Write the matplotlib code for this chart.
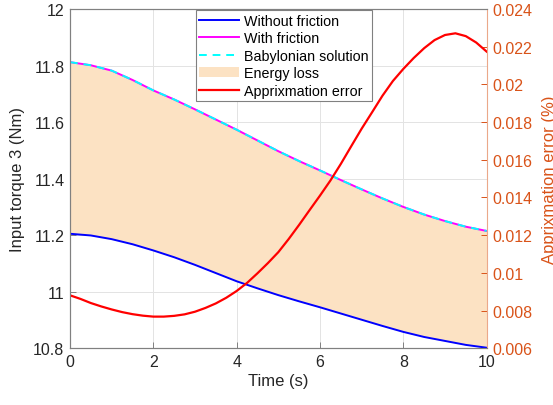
import matplotlib
matplotlib.use('Agg')
import matplotlib.pyplot as plt
import numpy as np

plt.rcParams['font.family'] = ['Liberation Sans', 'DejaVu Sans']

# data
tijd = np.arange(0, 10.5, 0.5)
zonder_wrijving = [11.205, 11.199, 11.186, 11.168, 11.146, 11.122, 11.095, 11.066, 11.037,
                   11.012, 10.988, 10.966, 10.945, 10.923, 10.901, 10.879, 10.858,
                   10.840, 10.826, 10.812, 10.802]
met_wrijving = [11.812, 11.801, 11.782, 11.749, 11.712, 11.680, 11.645, 11.609, 11.573,
                11.535, 11.497, 11.462, 11.429, 11.395, 11.362, 11.330, 11.300,
                11.273, 11.250, 11.230, 11.215]
babylonisch = list(met_wrijving)

tijd_fout = np.arange(0, 10.25, 0.25)
fout = [0.00881, 0.00862, 0.00840, 0.00822, 0.00806, 0.00792, 0.00781, 0.00773,
        0.00768, 0.00768, 0.00772, 0.00780, 0.00794, 0.00814, 0.00838, 0.00868,
        0.00904, 0.00947, 0.00998, 0.01052, 0.01110, 0.01180, 0.01255, 0.01333,
        0.01410, 0.01490, 0.01578, 0.01672, 0.01765, 0.01852, 0.01940, 0.02018,
        0.02082, 0.02140, 0.02192, 0.02235, 0.02262, 0.02271, 0.02256, 0.02222,
        0.02174]

oranje = '#D95319'
as_kleur = '#808080'

fig = plt.figure(figsize=(5.53, 4.06), dpi=100)
ax = fig.add_axes([0.1266, 0.1397, 0.7534, 0.8357])
ax2 = ax.twinx()

# energieverlies als gevulde band
vul = ax.fill_between(tijd, zonder_wrijving, met_wrijving, color='#FCE2C3', lw=0, zorder=1,
                      label='Energy loss')
l1, = ax.plot(tijd, zonder_wrijving, color='#0000FF', lw=1.4, zorder=3, label='Without friction')
l2, = ax.plot(tijd, met_wrijving, color='#FF00FF', lw=1.4, zorder=3, label='With friction')
l3, = ax.plot(tijd, babylonisch, color='#00FFFF', lw=1.4, ls=(0, (4, 3)), zorder=4,
              label='Babylonian solution')
l4, = ax2.plot(tijd_fout, fout, color='#FF0000', lw=1.6, label='Apprixmation error')

ax.set_xlim(0, 10)
ax.set_ylim(10.8, 12)
ax.set_xticks(np.arange(0, 11, 2))
ax.set_yticks(np.arange(10.8, 12.01, 0.2))
ax.yaxis.set_major_formatter(matplotlib.ticker.FormatStrFormatter('%g'))
ax2.set_ylim(0.006, 0.024)
ax2.set_yticks(np.arange(0.006, 0.0241, 0.002))
ax2.yaxis.set_major_formatter(matplotlib.ticker.FormatStrFormatter('%g'))

ax.grid(True, color='#E3E3E3', lw=0.7, zorder=0)
ax.set_axisbelow(True)

ax.tick_params(direction='in', length=4, width=0.7, color=as_kleur, labelsize=11.5,
               labelcolor='#262626', pad=4)
ax2.tick_params(direction='in', length=4, width=0.7, color=oranje, labelsize=11.5,
                labelcolor=oranje, pad=4)
for kant in ['left', 'bottom', 'top']:
    ax.spines[kant].set_color(as_kleur)
    ax2.spines[kant].set_color(as_kleur)
ax2.spines['right'].set_color('#EBA88A')
ax.spines['right'].set_visible(False)

ax.set_xlabel('Time (s)', fontsize=12, color='#262626', labelpad=3)
ax.set_ylabel('Input torque 3 (Nm)', fontsize=12, color='#262626', labelpad=6)
ax2.set_ylabel('Apprixmation error (%)', fontsize=12, color=oranje, labelpad=7)

leg = ax2.legend([l1, l2, l3, vul, l4],
                 ['Without friction', 'With friction', 'Babylonian solution', 'Energy loss',
                  'Apprixmation error'],
                 loc='upper left', bbox_to_anchor=(0.302, 0.997), fontsize=10.3,
                 fancybox=False, framealpha=1, edgecolor='#808080', handlelength=2.8,
                 handletextpad=0.3, labelspacing=0.25, borderpad=0.25, borderaxespad=0)
leg.get_frame().set_linewidth(0.8)

plt.savefig('out.png', dpi=100)
plt.close()
